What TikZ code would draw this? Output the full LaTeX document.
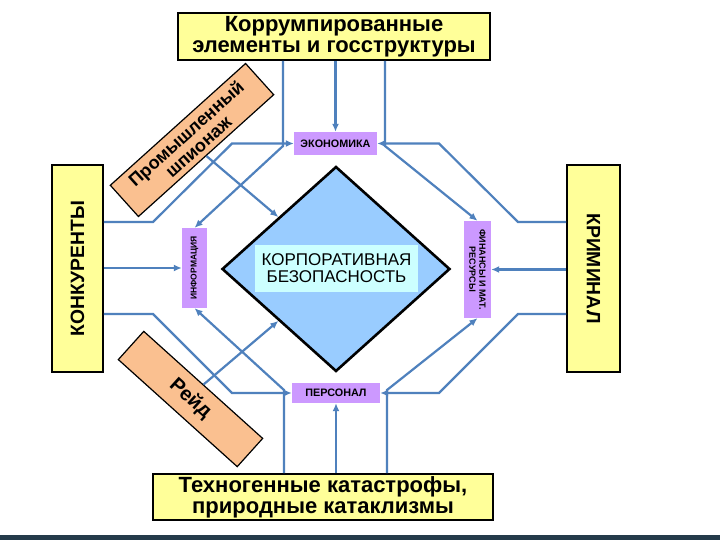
\documentclass[tikz,border=0pt]{standalone}
\usepackage{fontspec}
\setmainfont{Liberation Sans}
\usetikzlibrary{shapes.geometric,arrows.meta,calc}
\definecolor{ylw}{HTML}{FFFF99}
\definecolor{org}{HTML}{FAC090}
\definecolor{prp}{HTML}{CC99FF}
\definecolor{dblue}{HTML}{99CCFF}
\definecolor{cyanl}{HTML}{CCFFFF}
\definecolor{lnk}{HTML}{4F81BD}
\definecolor{strip}{HTML}{243B4A}
\begin{document}
\begin{tikzpicture}[x=1pt,y=-1pt,
  ybox/.style={draw=black, line width=1.6pt, fill=ylw, align=center, inner sep=0pt,
    font=\bfseries\fontsize{22}{21}\selectfont},
  pbox/.style={fill=prp, inner sep=0pt, align=center,
    font=\bfseries\fontsize{10.8}{11}\selectfont},
  obox/.style={draw=black, line width=1.2pt, fill=org, align=center, inner sep=0pt,
    font=\bfseries\fontsize{18}{18}\selectfont},
  conn/.style={draw=lnk, line width=2.2pt, -{Latex[length=8pt,width=7pt]}},
]
\useasboundingbox (0,0) rectangle (720,540);
\fill[white] (0,0) rectangle (720,540);
\fill[strip] (0,535) rectangle (720,540);

% outer boxes
\node[ybox, minimum width=312pt, minimum height=47pt] (top) at (334,36.5) {Коррумпированные\\элементы и госструктуры};
\node[ybox, minimum width=340pt, minimum height=46pt] (bot) at (323,497) {Техногенные катастрофы,\\природные катаклизмы};
\node[ybox, rotate=90, minimum width=207pt, minimum height=51pt, font=\bfseries\fontsize{19.3}{20}\selectfont] (left) at (77.5,268.5) {КОНКУРЕНТЫ};
\node[ybox, rotate=-90, minimum width=207pt, minimum height=53pt, font=\bfseries\fontsize{19.3}{20}\selectfont] (right) at (593.5,268.5) {КРИМИНАЛ};

% orange boxes
\node[obox, rotate=42, minimum width=182pt, minimum height=42pt] (prom) at (192,140) {Промышленный\\шпионаж};
\node[obox, rotate=-42, minimum width=160pt, minimum height=38pt, font=\bfseries\fontsize{20}{20}\selectfont] (reid) at (190.5,399) {Рейд};

% diamond
\node[diamond, draw=black, line width=2.6pt, fill=dblue, minimum width=228pt, minimum height=205pt, inner sep=0pt] (dia) at (336,269) {};
\node[fill=cyanl, minimum width=163pt, minimum height=47pt, inner sep=0pt, align=center,
  font=\fontsize{17}{17}\selectfont] (txt) at (336.5,268.5) {КОРПОРАТИВНАЯ\\БЕЗОПАСНОСТЬ};

% purple boxes
\node[pbox, minimum width=83pt, minimum height=23pt] (eko) at (335.5,143.5) {ЭКОНОМИКА};
\node[pbox, minimum width=88pt, minimum height=20pt, font=\bfseries\fontsize{10.8}{11}\selectfont] (pers) at (336,393) {ПЕРСОНАЛ};
\node[pbox, rotate=90, minimum width=80pt, minimum height=25pt, font=\bfseries\fontsize{8.5}{10}\selectfont] (info) at (194.5,268) {ИНФОРМАЦИЯ};
\node[pbox, rotate=-90, minimum width=97pt, minimum height=27pt, font=\bfseries\fontsize{9}{10}\selectfont] (fin) at (477.5,269.5) {ФИНАНСЫ И МАТ.\\РЕСУРСЫ};

% bend points
\coordinate (tl) at (283,146);
\coordinate (tr) at (385,146);
\coordinate (bl) at (284,390);
\coordinate (br) at (387,390);
\coordinate (lt1) at (153,222);
\coordinate (lt2) at (232,143.5);
\coordinate (lb1) at (153,314);
\coordinate (lb2) at (232,393);
\coordinate (rt1) at (518,222);
\coordinate (rt2) at (439,143.5);
\coordinate (rb1) at (518,314);
\coordinate (rb2) at (439,393);

% connectors
\draw[conn] (top.south -| tl) -- (tl) -- (info.east);
\draw[conn] (top.south -| eko.north) -- (eko.north);
\draw[conn] (top.south -| tr) -- (tr) -- (fin.west);
\draw[conn] (left.south |- lt1) -- (lt1) -- (lt2) -- (eko.west);
\draw[conn] (left.south |- info.north) -- (info.north);
\draw[conn] (left.south |- lb1) -- (lb1) -- (lb2) -- (pers.west);
\draw[conn] (right.south |- rt1) -- (rt1) -- (rt2) -- (eko.east);
\draw[conn] (right.south |- fin.north) -- (fin.north);
\draw[conn] (right.south |- rb1) -- (rb1) -- (rb2) -- (pers.east);
\draw[conn] (bot.north -| bl) -- (bl) -- (info.west);
\draw[conn] (bot.north -| pers.south) -- (pers.south);
\draw[conn] (bot.north -| br) -- (br) -- (fin.east);
\draw[conn] (prom.south) -- (dia.north west);
\draw[conn] (reid.north) -- (dia.south west);
\end{tikzpicture}
\end{document}
